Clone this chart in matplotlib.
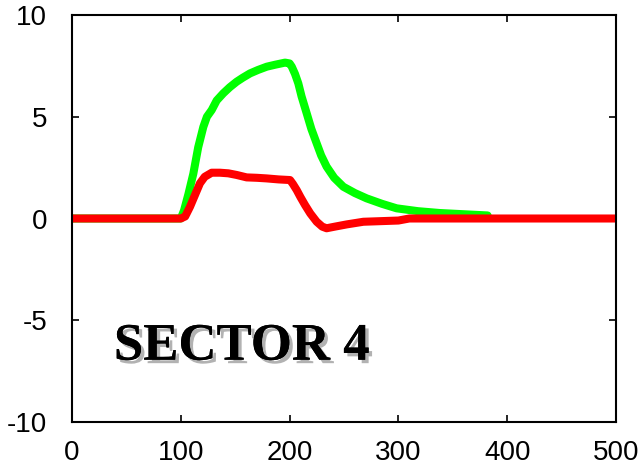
import matplotlib.pyplot as plt
import matplotlib.patheffects as pe

plt.rcParams['axes.unicode_minus'] = False

# green trace
green_x = [0, 100, 103, 107, 111.5, 116, 120.7, 124, 128.4, 133, 139, 145, 151.3, 157,
           163.6, 171, 179, 187, 195.8, 200, 202, 205, 208, 211, 215.7, 220, 224.9,
           229, 234, 241, 249.4, 260, 270.8, 285, 298.4, 318, 338, 382]
green_y = [0, 0, 0.4, 1.2, 2.2, 3.5, 4.5, 5.0, 5.33, 5.8, 6.15, 6.45, 6.72, 6.92,
           7.13, 7.3, 7.46, 7.56, 7.66, 7.62, 7.46, 7.1, 6.64, 6.0, 5.17, 4.4, 3.69,
           3.1, 2.55, 2.0, 1.56, 1.25, 0.99, 0.72, 0.5, 0.36, 0.27, 0.15]

# red trace
red_x = [0, 100, 104, 108.5, 113, 117.6, 122, 128.4, 136, 143.7, 151.3, 160.5, 170,
         178.9, 190, 200.4, 203, 206.5, 210, 214.2, 219, 224.9, 230, 234, 241.6,
         252.5, 267.8, 300, 310, 500]
red_y = [0, 0, 0.1, 0.58, 1.15, 1.73, 2.05, 2.25, 2.25, 2.22, 2.14, 2.02, 2.0,
         1.97, 1.92, 1.89, 1.7, 1.4, 1.05, 0.66, 0.25, -0.16, -0.4, -0.48, -0.4,
         -0.29, -0.16, -0.1, 0, 0]

xticks = [0, 100, 200, 300, 400, 500]
yticks = [-10, -5, 0, 5, 10]

fig = plt.figure(figsize=(6.42, 4.67), dpi=100)
ax = fig.add_axes([72/642, 1 - 422/467, (616-72)/642, (422-15)/467])

ax.plot(green_x, green_y, color='#00ff00', lw=5.8, solid_capstyle='round', solid_joinstyle='round')
ax.plot(red_x, red_y, color='#ff0000', lw=5.8, solid_capstyle='butt', solid_joinstyle='round')

ax.set_xlim(0, 500)
ax.set_ylim(-10, 10)
ax.set_xticks(xticks)
ax.set_yticks(yticks)

for lab in ax.get_xticklabels() + ax.get_yticklabels():
    lab.set_family(['Liberation Sans', 'DejaVu Sans'])
    lab.set_fontsize(20)

ax.tick_params(direction='in', length=5, width=1.2, top=True, right=True,
               labeltop=False, labelright=False)
ax.tick_params(axis='x', pad=13)
ax.tick_params(axis='y', pad=18)
for s in ax.spines.values():
    s.set_linewidth(1.5)

ax.text(38.5, -6.3, 'SECTOR 4', family=['Liberation Serif', 'DejaVu Serif'],
        fontweight='bold', fontsize=38, va='center', ha='left',
        path_effects=[pe.withSimplePatchShadow(offset=(2.5, -2.5), shadow_rgbFace='gray', alpha=0.6),
                      pe.Normal()])

fig.savefig('out.png', dpi=100)
